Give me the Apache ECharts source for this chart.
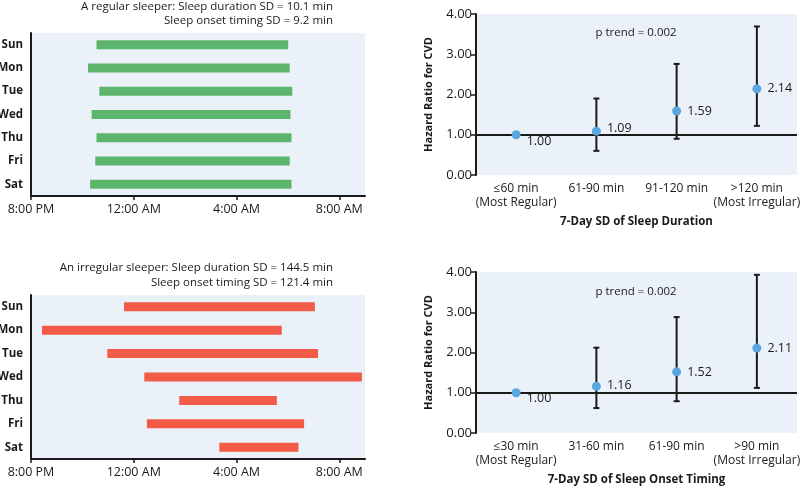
<!DOCTYPE html>
<html><head><meta charset="utf-8">
<script src="https://cdn.jsdelivr.net/npm/echarts@6/dist/echarts.min.js"></script>
<style>html,body{margin:0;padding:0;background:#fff}#c{width:800px;height:488px}</style>
</head><body><div id="c"></div>
<script>
// ---------- data ----------
const days = ['Sun', 'Mon', 'Tue', 'Wed', 'Thu', 'Fri', 'Sat'];
const timeTickValues = [0, 4, 8, 12];            // hours after 8:00 PM
const timeTickLabels = ['8:00 PM', '12:00 AM', '4:00 AM', '8:00 AM'];
// sleep onset / wake, in hours after 8:00 PM
const regularOnset = [2.55, 2.22, 2.66, 2.36, 2.55, 2.50, 2.30];
const regularWake = [10.01, 10.07, 10.17, 10.10, 10.14, 10.07, 10.14];
const irregularOnset = [3.62, 0.43, 2.97, 4.41, 5.77, 4.51, 7.33];
const irregularWake = [11.05, 9.76, 11.17, 12.88, 9.57, 10.63, 10.41];

const regularTitle = ['A regular sleeper: Sleep duration SD = 10.1 min', 'Sleep onset timing SD = 9.2 min'];
const irregularTitle = ['An irregular sleeper: Sleep duration SD = 144.5 min', 'Sleep onset timing SD = 121.4 min'];

const durationGroups = ['≤60 min\n(Most Regular)', '61-90 min', '91-120 min', '>120 min\n(Most Irregular)'];
const durationHR = [1.00, 1.09, 1.59, 2.14];
const durationLow = [null, 0.60, 0.90, 1.22];
const durationHigh = [null, 1.90, 2.76, 3.69];

const onsetGroups = ['≤30 min\n(Most Regular)', '31-60 min', '61-90 min', '>90 min\n(Most Irregular)'];
const onsetHR = [1.00, 1.16, 1.52, 2.11];
const onsetLow = [null, 0.62, 0.79, 1.12];
const onsetHigh = [null, 2.12, 2.88, 3.93];

const hrTickLabels = ['0.00', '1.00', '2.00', '3.00', '4.00'];
const pTrend = 'p trend = 0.002';
const durationAxisTitle = '7-Day SD of Sleep Duration';
const onsetAxisTitle = '7-Day SD of Sleep Onset Timing';
const hrAxisTitle = 'Hazard Ratio for CVD';

// ---------- styling / layout ----------
const FONT = '"Open Sans"';
const INK = '#1a1a1a';
const BG = '#eaf1f9';
const GREEN = '#5db46b';
const RED = '#f15b48';
const BLUE = '#5aa6de';

const chart = echarts.init(document.getElementById('c'), null, {renderer: 'canvas'});

const gridBase = {show: true, backgroundColor: BG, borderWidth: 0, containLabel: false, outerBoundsMode: 'none'};
const grids = [
  Object.assign({left: 31, right: 435, top: 33, bottom: 292}, gridBase),
  Object.assign({left: 31, right: 435, top: 295, bottom: 29}, gridBase),
  Object.assign({left: 476, right: 3, top: 14, bottom: 313}, gridBase),
  Object.assign({left: 476, right: 3, top: 272, bottom: 55}, gridBase)
];

function timeAxis(gi) {
  return {
    type: 'value', gridIndex: gi, min: 0, max: 13,
    axisLine: {show: true, lineStyle: {color: INK, width: 2}},
    axisTick: {show: true, length: 4, customValues: timeTickValues, lineStyle: {color: INK, width: 1.5}},
    axisLabel: {customValues: timeTickValues, color: INK, fontFamily: FONT, fontSize: 12.5, margin: 7,
      formatter: v => timeTickLabels[timeTickValues.indexOf(v)] || ''},
    splitLine: {show: false}
  };
}
function dayAxis(gi) {
  return {
    type: 'category', gridIndex: gi, data: days, inverse: true,
    axisLine: {show: true, lineStyle: {color: INK, width: 2}},
    axisTick: {show: false},
    axisLabel: {color: INK, fontFamily: FONT, fontSize: 11.5, fontWeight: 'bold', margin: 8},
    splitLine: {show: false}
  };
}
function groupAxis(gi, cats, title) {
  return {
    type: 'category', gridIndex: gi, data: cats,
    axisLine: {show: false}, axisTick: {show: false},
    axisLabel: {color: INK, fontFamily: FONT, fontSize: 12, margin: 7, lineHeight: 14, interval: 0},
    name: title, nameLocation: 'middle', nameGap: 41,
    nameTextStyle: {color: INK, fontFamily: FONT, fontSize: 11.5, fontWeight: 'bold'}
  };
}
function hrAxis(gi) {
  return {
    type: 'value', gridIndex: gi, min: 0, max: 4, interval: 1,
    axisLine: {show: true, lineStyle: {color: INK, width: 2}},
    axisTick: {show: true, length: 5, lineStyle: {color: INK, width: 1.5}},
    axisLabel: {color: INK, fontFamily: FONT, fontSize: 13, margin: 4, formatter: v => hrTickLabels[v]},
    splitLine: {show: false},
    name: hrAxisTitle, nameLocation: 'middle', nameGap: 42, nameRotate: 90,
    nameTextStyle: {color: INK, fontFamily: FONT, fontSize: 11, fontWeight: 'bold'}
  };
}

function rangeBars(onset, wake, color, gi) {
  return {
    type: 'custom', xAxisIndex: gi, yAxisIndex: gi, silent: true,
    data: days.map((d, i) => [i, onset[i], wake[i]]),
    encode: {y: 0, x: [1, 2]},
    renderItem: function (params, api) {
      const idx = api.value(0);
      const s = api.coord([api.value(1), idx]);
      const e = api.coord([api.value(2), idx]);
      const h = 9;
      return {type: 'rect', shape: {x: s[0], y: s[1] - h / 2, width: e[0] - s[0], height: h}, style: {fill: color}};
    }
  };
}

function errorBars(low, high, gi) {
  const data = [];
  low.forEach((l, i) => { if (l != null) data.push([i, l, high[i]]); });
  return {
    type: 'custom', xAxisIndex: gi, yAxisIndex: gi, silent: true, z: 3,
    data: data, encode: {x: 0, y: [1, 2]},
    renderItem: function (params, api) {
      const i = api.value(0);
      const lo = api.coord([i, api.value(1)]);
      const hi = api.coord([i, api.value(2)]);
      const cap = 3;
      const st = {stroke: INK, lineWidth: 2};
      return {type: 'group', children: [
        {type: 'line', shape: {x1: lo[0], y1: lo[1], x2: hi[0], y2: hi[1]}, style: st},
        {type: 'line', shape: {x1: lo[0] - cap, y1: lo[1], x2: lo[0] + cap, y2: lo[1]}, style: st},
        {type: 'line', shape: {x1: hi[0] - cap, y1: hi[1], x2: hi[0] + cap, y2: hi[1]}, style: st}
      ]};
    }
  };
}

function hrPoints(hr, gi, offsets) {
  return {
    type: 'scatter', xAxisIndex: gi, yAxisIndex: gi, silent: true, z: 5,
    symbolSize: 9, itemStyle: {color: BLUE, opacity: 1},
    data: hr.map((v, i) => ({value: [i, v], label: {offset: offsets[i]}})),
    label: {show: true, position: 'right', distance: 6, color: INK, fontFamily: FONT, fontSize: 12.5,
      formatter: p => p.value[1].toFixed(2)},
    markLine: {silent: true, symbol: ['none', 'none'], label: {show: false},
      lineStyle: {color: INK, width: 2, type: 'solid'}, data: [{yAxis: 1}]}
  };
}

function textEl(x, y, text, align, size) {
  return {type: 'text', x: x, y: y, silent: true,
    style: {text: text, fill: INK, font: 'normal ' + size + 'px ' + FONT, align: align, verticalAlign: 'middle'}};
}

chart.setOption({
  animation: false,
  grid: grids,
  xAxis: [timeAxis(0), timeAxis(1), groupAxis(2, durationGroups, durationAxisTitle), groupAxis(3, onsetGroups, onsetAxisTitle)],
  yAxis: [dayAxis(0), dayAxis(1), hrAxis(2), hrAxis(3)],
  series: [
    rangeBars(regularOnset, regularWake, GREEN, 0),
    rangeBars(irregularOnset, irregularWake, RED, 1),
    errorBars(durationLow, durationHigh, 2),
    hrPoints(durationHR, 2, [[0, 7], [0, -3], [0, 0], [0, 0]]),
    errorBars(onsetLow, onsetHigh, 3),
    hrPoints(onsetHR, 3, [[0, 6], [0, -1], [0, 1], [0, 0]])
  ],
  graphic: [
    textEl(333, 7, regularTitle[0], 'right', 11.5),
    textEl(333, 21, regularTitle[1], 'right', 11.5),
    textEl(333, 268, irregularTitle[0], 'right', 11.5),
    textEl(333, 283, irregularTitle[1], 'right', 11.5),
    textEl(636, 33, pTrend, 'center', 11.5),
    textEl(636, 292, pTrend, 'center', 11.5)
  ]
});
</script>
</body></html>
